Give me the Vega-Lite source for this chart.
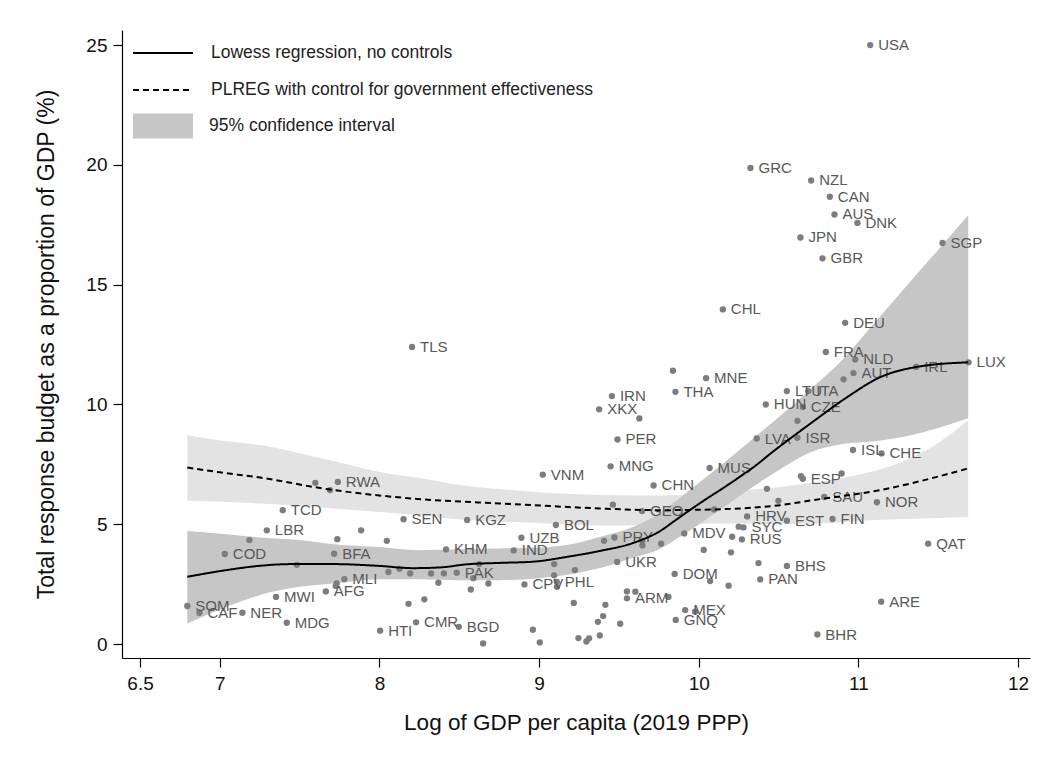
{
  "$schema": "https://vega.github.io/schema/vega-lite/v6.json",
  "width": 908,
  "height": 628,
  "autosize": {"type": "none"},
  "padding": {"left": 122, "top": 30, "right": 23, "bottom": 101},
  "background": "white",
  "config": {
    "view": {"stroke": null},
    "font": "Liberation Sans",
    "axis": {
      "grid": false,
      "domainColor": "#000",
      "domainWidth": 1.2,
      "tickColor": "#000",
      "tickWidth": 1.2,
      "tickSize": 9,
      "labelFont": "Liberation Sans",
      "labelFontSize": 19,
      "labelColor": "#111",
      "titleFont": "Liberation Sans",
      "titleFontSize": 22.5,
      "titleFontWeight": "normal",
      "titleColor": "#111"
    },
    "axisX": {"labelPadding": 7, "titlePadding": 18},
    "axisY": {"labelAngle": 0, "labelPadding": 6, "titlePadding": 27, "titleFontSize": 23},
    "legend": {
      "labelFont": "Liberation Sans",
      "labelFontSize": 17.5,
      "labelColor": "#222",
      "labelLimit": 0,
      "padding": 0
    }
  },
  "datasets": {
    "countries": [
      {"x": 11.074, "y": 25.0, "iso": "USA"},
      {"x": 10.324, "y": 19.87, "iso": "GRC"},
      {"x": 10.704, "y": 19.35, "iso": "NZL"},
      {"x": 10.821, "y": 18.67, "iso": "CAN"},
      {"x": 10.85, "y": 17.93, "iso": "AUS"},
      {"x": 10.994, "y": 17.58, "iso": "DNK"},
      {"x": 10.637, "y": 16.97, "iso": "JPN"},
      {"x": 11.527, "y": 16.74, "iso": "SGP"},
      {"x": 10.775, "y": 16.1, "iso": "GBR"},
      {"x": 10.151, "y": 13.97, "iso": "CHL"},
      {"x": 10.917, "y": 13.41, "iso": "DEU"},
      {"x": 8.204, "y": 12.4, "iso": "TLS"},
      {"x": 10.796, "y": 12.19, "iso": "FRA"},
      {"x": 11.69, "y": 11.76, "iso": "LUX"},
      {"x": 10.98, "y": 11.88, "iso": "NLD"},
      {"x": 11.362, "y": 11.57, "iso": "IRL"},
      {"x": 10.969, "y": 11.31, "iso": "AUT"},
      {"x": 10.907, "y": 11.05, "iso": ""},
      {"x": 10.046, "y": 11.1, "iso": "MNE"},
      {"x": 9.838, "y": 11.41, "iso": ""},
      {"x": 9.854, "y": 10.53, "iso": "THA"},
      {"x": 10.552, "y": 10.56, "iso": "LTU"},
      {"x": 10.686, "y": 10.56, "iso": "ITA"},
      {"x": 9.456, "y": 10.35, "iso": "IRN"},
      {"x": 10.42, "y": 10.0, "iso": "HUN"},
      {"x": 10.652, "y": 9.9, "iso": "CZE"},
      {"x": 9.376, "y": 9.8, "iso": "XKX"},
      {"x": 9.628, "y": 9.42, "iso": ""},
      {"x": 10.618, "y": 9.32, "iso": ""},
      {"x": 9.491, "y": 8.54, "iso": "PER"},
      {"x": 10.618, "y": 8.61, "iso": "ISR"},
      {"x": 10.363, "y": 8.58, "iso": "LVA"},
      {"x": 10.966, "y": 8.1, "iso": "ISL"},
      {"x": 11.145, "y": 7.96, "iso": "CHE"},
      {"x": 9.448, "y": 7.42, "iso": "MNG"},
      {"x": 10.068, "y": 7.35, "iso": "MUS"},
      {"x": 10.64, "y": 7.01, "iso": ""},
      {"x": 10.652, "y": 6.9, "iso": "ESP"},
      {"x": 10.895, "y": 7.12, "iso": ""},
      {"x": 9.023, "y": 7.07, "iso": "VNM"},
      {"x": 7.739, "y": 6.77, "iso": "RWA"},
      {"x": 7.598, "y": 6.73, "iso": ""},
      {"x": 7.69, "y": 6.43, "iso": ""},
      {"x": 9.717, "y": 6.62, "iso": "CHN"},
      {"x": 10.427, "y": 6.48, "iso": ""},
      {"x": 10.499, "y": 5.98, "iso": ""},
      {"x": 10.786, "y": 6.14, "iso": "SAU"},
      {"x": 11.116, "y": 5.92, "iso": "NOR"},
      {"x": 9.462, "y": 5.82, "iso": ""},
      {"x": 9.645, "y": 5.55, "iso": "GEO"},
      {"x": 10.096, "y": 5.62, "iso": ""},
      {"x": 7.394, "y": 5.59, "iso": "TCD"},
      {"x": 10.303, "y": 5.33, "iso": "HRV"},
      {"x": 10.552, "y": 5.15, "iso": "EST"},
      {"x": 10.838, "y": 5.22, "iso": "FIN"},
      {"x": 8.151, "y": 5.21, "iso": "SEN"},
      {"x": 8.549, "y": 5.18, "iso": "KGZ"},
      {"x": 9.105, "y": 4.97, "iso": "BOL"},
      {"x": 10.25, "y": 4.9, "iso": ""},
      {"x": 10.28, "y": 4.87, "iso": "SYC"},
      {"x": 7.294, "y": 4.75, "iso": "LBR"},
      {"x": 7.885, "y": 4.75, "iso": ""},
      {"x": 9.909, "y": 4.62, "iso": "MDV"},
      {"x": 10.27, "y": 4.37, "iso": "RUS"},
      {"x": 10.209, "y": 4.48, "iso": ""},
      {"x": 8.889, "y": 4.44, "iso": "UZB"},
      {"x": 9.407, "y": 4.31, "iso": ""},
      {"x": 9.472, "y": 4.45, "iso": "PRY"},
      {"x": 9.647, "y": 4.31, "iso": ""},
      {"x": 9.647, "y": 4.12, "iso": ""},
      {"x": 9.764, "y": 4.19, "iso": ""},
      {"x": 7.185, "y": 4.34, "iso": ""},
      {"x": 7.736, "y": 4.38, "iso": ""},
      {"x": 8.046, "y": 4.31, "iso": ""},
      {"x": 11.437, "y": 4.19, "iso": "QAT"},
      {"x": 8.417, "y": 3.95, "iso": "KHM"},
      {"x": 8.841, "y": 3.91, "iso": "IND"},
      {"x": 10.031, "y": 3.93, "iso": ""},
      {"x": 10.202, "y": 3.83, "iso": ""},
      {"x": 7.716, "y": 3.77, "iso": "BFA"},
      {"x": 7.031, "y": 3.76, "iso": "COD"},
      {"x": 9.489, "y": 3.43, "iso": "UKR"},
      {"x": 10.374, "y": 3.38, "iso": ""},
      {"x": 10.552, "y": 3.26, "iso": "BHS"},
      {"x": 9.094, "y": 3.34, "iso": ""},
      {"x": 8.624, "y": 3.34, "iso": ""},
      {"x": 7.482, "y": 3.31, "iso": ""},
      {"x": 9.224, "y": 3.09, "iso": ""},
      {"x": 8.056, "y": 3.01, "iso": ""},
      {"x": 8.125, "y": 3.14, "iso": ""},
      {"x": 8.192, "y": 2.95, "iso": ""},
      {"x": 8.323, "y": 2.95, "iso": ""},
      {"x": 8.403, "y": 2.95, "iso": ""},
      {"x": 8.484, "y": 2.98, "iso": "PAK"},
      {"x": 9.849, "y": 2.93, "iso": "DOM"},
      {"x": 9.094, "y": 2.87, "iso": ""},
      {"x": 8.588, "y": 2.75, "iso": ""},
      {"x": 7.78, "y": 2.71, "iso": "MLI"},
      {"x": 10.385, "y": 2.7, "iso": "PAN"},
      {"x": 10.071, "y": 2.63, "iso": ""},
      {"x": 9.111, "y": 2.6, "iso": "PHL"},
      {"x": 9.111, "y": 2.39, "iso": ""},
      {"x": 8.369, "y": 2.56, "iso": ""},
      {"x": 8.682, "y": 2.53, "iso": ""},
      {"x": 7.732, "y": 2.53, "iso": ""},
      {"x": 7.726, "y": 2.43, "iso": ""},
      {"x": 8.908, "y": 2.49, "iso": "CPV"},
      {"x": 10.187, "y": 2.44, "iso": ""},
      {"x": 8.572, "y": 2.28, "iso": ""},
      {"x": 7.664, "y": 2.2, "iso": "AFG"},
      {"x": 9.55, "y": 2.2, "iso": ""},
      {"x": 9.603, "y": 2.19, "iso": ""},
      {"x": 9.55, "y": 1.91, "iso": "ARM"},
      {"x": 9.81, "y": 1.97, "iso": ""},
      {"x": 7.352, "y": 1.97, "iso": "MWI"},
      {"x": 8.281, "y": 1.87, "iso": ""},
      {"x": 11.143, "y": 1.77, "iso": "ARE"},
      {"x": 9.217, "y": 1.72, "iso": ""},
      {"x": 8.182, "y": 1.68, "iso": ""},
      {"x": 9.415, "y": 1.64, "iso": ""},
      {"x": 6.796, "y": 1.59, "iso": "SOM"},
      {"x": 9.915, "y": 1.42, "iso": "MEX"},
      {"x": 9.977, "y": 1.35, "iso": ""},
      {"x": 6.872, "y": 1.31, "iso": "CAF"},
      {"x": 7.141, "y": 1.31, "iso": "NER"},
      {"x": 9.401, "y": 1.17, "iso": ""},
      {"x": 9.856, "y": 1.01, "iso": "GNQ"},
      {"x": 9.368, "y": 0.93, "iso": ""},
      {"x": 8.229, "y": 0.91, "iso": "CMR"},
      {"x": 7.419, "y": 0.89, "iso": "MDG"},
      {"x": 9.508, "y": 0.85, "iso": ""},
      {"x": 8.497, "y": 0.72, "iso": "BGD"},
      {"x": 8.961, "y": 0.6, "iso": ""},
      {"x": 8.004, "y": 0.56, "iso": "HTI"},
      {"x": 10.743, "y": 0.4, "iso": "BHR"},
      {"x": 9.38, "y": 0.36, "iso": ""},
      {"x": 9.246, "y": 0.25, "iso": ""},
      {"x": 9.313, "y": 0.24, "iso": ""},
      {"x": 9.296, "y": 0.11, "iso": ""},
      {"x": 9.004, "y": 0.07, "iso": ""},
      {"x": 8.649, "y": 0.03, "iso": ""}
    ],
    "curves": [
      {"model": "Lowess regression, no controls", "x": 6.796, "y": 2.81},
      {"model": "Lowess regression, no controls", "x": 7.043, "y": 3.09},
      {"model": "Lowess regression, no controls", "x": 7.252, "y": 3.27},
      {"model": "Lowess regression, no controls", "x": 7.461, "y": 3.34},
      {"model": "Lowess regression, no controls", "x": 7.711, "y": 3.34},
      {"model": "Lowess regression, no controls", "x": 7.983, "y": 3.27},
      {"model": "Lowess regression, no controls", "x": 8.212, "y": 3.17},
      {"model": "Lowess regression, no controls", "x": 8.38, "y": 3.2},
      {"model": "Lowess regression, no controls", "x": 8.547, "y": 3.33},
      {"model": "Lowess regression, no controls", "x": 8.756, "y": 3.39},
      {"model": "Lowess regression, no controls", "x": 8.962, "y": 3.44},
      {"model": "Lowess regression, no controls", "x": 9.174, "y": 3.64},
      {"model": "Lowess regression, no controls", "x": 9.382, "y": 3.89},
      {"model": "Lowess regression, no controls", "x": 9.589, "y": 4.22},
      {"model": "Lowess regression, no controls", "x": 9.758, "y": 4.72},
      {"model": "Lowess regression, no controls", "x": 9.85, "y": 5.15},
      {"model": "Lowess regression, no controls", "x": 9.95, "y": 5.62},
      {"model": "Lowess regression, no controls", "x": 10.05, "y": 6.07},
      {"model": "Lowess regression, no controls", "x": 10.15, "y": 6.5},
      {"model": "Lowess regression, no controls", "x": 10.25, "y": 6.95},
      {"model": "Lowess regression, no controls", "x": 10.35, "y": 7.42},
      {"model": "Lowess regression, no controls", "x": 10.468, "y": 8.05},
      {"model": "Lowess regression, no controls", "x": 10.593, "y": 8.68},
      {"model": "Lowess regression, no controls", "x": 10.719, "y": 9.3},
      {"model": "Lowess regression, no controls", "x": 10.928, "y": 10.3},
      {"model": "Lowess regression, no controls", "x": 11.137, "y": 11.14},
      {"model": "Lowess regression, no controls", "x": 11.367, "y": 11.57},
      {"model": "Lowess regression, no controls", "x": 11.688, "y": 11.76},
      {"model": "PLREG with control for government effectiveness", "x": 6.796, "y": 7.37},
      {"model": "PLREG with control for government effectiveness", "x": 7.0, "y": 7.17},
      {"model": "PLREG with control for government effectiveness", "x": 7.252, "y": 6.95},
      {"model": "PLREG with control for government effectiveness", "x": 7.67, "y": 6.47},
      {"model": "PLREG with control for government effectiveness", "x": 8.254, "y": 6.05},
      {"model": "PLREG with control for government effectiveness", "x": 8.756, "y": 5.87},
      {"model": "PLREG with control for government effectiveness", "x": 9.069, "y": 5.76},
      {"model": "PLREG with control for government effectiveness", "x": 9.382, "y": 5.66},
      {"model": "PLREG with control for government effectiveness", "x": 9.758, "y": 5.59},
      {"model": "PLREG with control for government effectiveness", "x": 10.092, "y": 5.62},
      {"model": "PLREG with control for government effectiveness", "x": 10.51, "y": 5.8},
      {"model": "PLREG with control for government effectiveness", "x": 10.719, "y": 6.01},
      {"model": "PLREG with control for government effectiveness", "x": 11.137, "y": 6.43},
      {"model": "PLREG with control for government effectiveness", "x": 11.688, "y": 7.33}
    ],
    "bands": [
      {"band": "Lowess", "ci": "95% confidence interval", "x": 6.796, "lo": 0.86, "hi": 4.72},
      {"band": "Lowess", "ci": "95% confidence interval", "x": 7.043, "lo": 1.56, "hi": 4.59},
      {"band": "Lowess", "ci": "95% confidence interval", "x": 7.252, "lo": 2.05, "hi": 4.45},
      {"band": "Lowess", "ci": "95% confidence interval", "x": 7.5, "lo": 2.39, "hi": 4.34},
      {"band": "Lowess", "ci": "95% confidence interval", "x": 7.711, "lo": 2.53, "hi": 4.17},
      {"band": "Lowess", "ci": "95% confidence interval", "x": 8.0, "lo": 2.71, "hi": 4.05},
      {"band": "Lowess", "ci": "95% confidence interval", "x": 8.25, "lo": 2.71, "hi": 3.92},
      {"band": "Lowess", "ci": "95% confidence interval", "x": 8.5, "lo": 2.67, "hi": 3.96},
      {"band": "Lowess", "ci": "95% confidence interval", "x": 8.75, "lo": 2.67, "hi": 3.99},
      {"band": "Lowess", "ci": "95% confidence interval", "x": 9.0, "lo": 2.75, "hi": 4.03},
      {"band": "Lowess", "ci": "95% confidence interval", "x": 9.2, "lo": 2.92, "hi": 4.17},
      {"band": "Lowess", "ci": "95% confidence interval", "x": 9.4, "lo": 3.21, "hi": 4.51},
      {"band": "Lowess", "ci": "95% confidence interval", "x": 9.6, "lo": 3.63, "hi": 4.92},
      {"band": "Lowess", "ci": "95% confidence interval", "x": 9.75, "lo": 3.95, "hi": 5.45},
      {"band": "Lowess", "ci": "95% confidence interval", "x": 9.9, "lo": 4.55, "hi": 6.2},
      {"band": "Lowess", "ci": "95% confidence interval", "x": 10.1, "lo": 5.45, "hi": 7.26},
      {"band": "Lowess", "ci": "95% confidence interval", "x": 10.3, "lo": 6.39, "hi": 8.35},
      {"band": "Lowess", "ci": "95% confidence interval", "x": 10.5, "lo": 7.26, "hi": 9.47},
      {"band": "Lowess", "ci": "95% confidence interval", "x": 10.7, "lo": 8.01, "hi": 10.64},
      {"band": "Lowess", "ci": "95% confidence interval", "x": 10.9, "lo": 8.35, "hi": 11.87},
      {"band": "Lowess", "ci": "95% confidence interval", "x": 11.1, "lo": 8.47, "hi": 13.4},
      {"band": "Lowess", "ci": "95% confidence interval", "x": 11.3, "lo": 8.68, "hi": 14.94},
      {"band": "Lowess", "ci": "95% confidence interval", "x": 11.5, "lo": 9.02, "hi": 16.46},
      {"band": "Lowess", "ci": "95% confidence interval", "x": 11.688, "lo": 9.43, "hi": 17.9},
      {"band": "PLREG", "x": 6.796, "lo": 5.98, "hi": 8.72},
      {"band": "PLREG", "x": 7.043, "lo": 5.93, "hi": 8.47},
      {"band": "PLREG", "x": 7.252, "lo": 5.87, "hi": 8.31},
      {"band": "PLREG", "x": 7.5, "lo": 5.78, "hi": 7.97},
      {"band": "PLREG", "x": 7.711, "lo": 5.66, "hi": 7.64},
      {"band": "PLREG", "x": 8.0, "lo": 5.51, "hi": 7.18},
      {"band": "PLREG", "x": 8.25, "lo": 5.38, "hi": 6.93},
      {"band": "PLREG", "x": 8.5, "lo": 5.2, "hi": 6.64},
      {"band": "PLREG", "x": 8.75, "lo": 5.12, "hi": 6.47},
      {"band": "PLREG", "x": 9.0, "lo": 5.05, "hi": 6.34},
      {"band": "PLREG", "x": 9.2, "lo": 4.98, "hi": 6.26},
      {"band": "PLREG", "x": 9.4, "lo": 4.95, "hi": 6.22},
      {"band": "PLREG", "x": 9.6, "lo": 4.95, "hi": 6.2},
      {"band": "PLREG", "x": 9.75, "lo": 4.96, "hi": 6.2},
      {"band": "PLREG", "x": 9.9, "lo": 4.99, "hi": 6.22},
      {"band": "PLREG", "x": 10.1, "lo": 5.03, "hi": 6.3},
      {"band": "PLREG", "x": 10.3, "lo": 5.03, "hi": 6.43},
      {"band": "PLREG", "x": 10.5, "lo": 5.0, "hi": 6.55},
      {"band": "PLREG", "x": 10.7, "lo": 5.02, "hi": 6.72},
      {"band": "PLREG", "x": 10.9, "lo": 5.09, "hi": 6.93},
      {"band": "PLREG", "x": 11.1, "lo": 5.18, "hi": 7.22},
      {"band": "PLREG", "x": 11.3, "lo": 5.22, "hi": 7.68},
      {"band": "PLREG", "x": 11.5, "lo": 5.26, "hi": 8.39},
      {"band": "PLREG", "x": 11.688, "lo": 5.3, "hi": 9.35}
    ]
  },
  "layer": [
    {
      "data": {"name": "bands"},
      "transform": [{"filter": "datum.band === 'PLREG'"}],
      "mark": {"type": "area", "color": "#e3e3e3", "opacity": 1, "interpolate": "monotone"},
      "encoding": {
        "x": {
          "field": "x", "type": "quantitative",
          "scale": {"domain": [6.387, 12.075], "nice": false, "zero": false},
          "axis": {"values": [6.5, 7, 8, 9, 10, 11, 12], "format": "~g"},
          "title": "Log of GDP per capita (2019 PPP)"
        },
        "y": {
          "field": "lo", "type": "quantitative",
          "scale": {"domain": [-0.58, 25.63], "nice": false, "zero": false},
          "axis": {"values": [0, 5, 10, 15, 20, 25], "format": "d"},
          "title": "Total response budget as a proportion of GDP (%)"
        },
        "y2": {"field": "hi"}
      }
    },
    {
      "data": {"name": "bands"},
      "transform": [{"filter": "datum.band === 'Lowess'"}],
      "mark": {"type": "area", "opacity": 1, "interpolate": "monotone"},
      "encoding": {
        "x": {"field": "x", "type": "quantitative", "title": "Log of GDP per capita (2019 PPP)"},
        "y": {"field": "lo", "type": "quantitative", "title": "Total response budget as a proportion of GDP (%)"},
        "y2": {"field": "hi"},
        "fill": {
          "field": "ci", "type": "nominal",
          "scale": {"domain": ["95% confidence interval"], "range": ["#c6c6c6"]},
          "legend": {
            "title": null, "orient": "none", "legendX": 11, "legendY": 86,
            "symbolType": "M-1,-1.25H5V1.25H-1Z", "symbolSize": 400,
            "symbolStrokeWidth": 0, "symbolOpacity": 1,
            "labelOffset": 56
          }
        }
      }
    },
    {
      "data": {"name": "countries"},
      "mark": {"type": "circle", "size": 40, "color": "#7d7d7d", "opacity": 1},
      "encoding": {
        "x": {"field": "x", "type": "quantitative", "title": "Log of GDP per capita (2019 PPP)"},
        "y": {"field": "y", "type": "quantitative", "title": "Total response budget as a proportion of GDP (%)"}
      }
    },
    {
      "data": {"name": "countries"},
      "mark": {"type": "text", "align": "left", "baseline": "middle", "dx": 8, "fontSize": 15, "font": "Liberation Sans", "color": "#585858"},
      "encoding": {
        "x": {"field": "x", "type": "quantitative", "title": "Log of GDP per capita (2019 PPP)"},
        "y": {"field": "y", "type": "quantitative", "title": "Total response budget as a proportion of GDP (%)"},
        "text": {"field": "iso"}
      }
    },
    {
      "data": {"name": "curves"},
      "mark": {"type": "line", "color": "black", "strokeWidth": 2, "interpolate": "monotone"},
      "encoding": {
        "x": {"field": "x", "type": "quantitative", "title": "Log of GDP per capita (2019 PPP)"},
        "y": {"field": "y", "type": "quantitative", "title": "Total response budget as a proportion of GDP (%)"},
        "strokeDash": {
          "field": "model", "type": "nominal",
          "scale": {"domain": ["Lowess regression, no controls", "PLREG with control for government effectiveness"], "range": [[1, 0], [6, 4]]},
          "legend": {
            "title": null, "orient": "none", "legendX": 10, "legendY": 12,
            "symbolType": "M-1,0H5", "symbolSize": 400,
            "symbolStrokeWidth": 2, "symbolStrokeColor": "black",
            "labelOffset": 57, "rowPadding": 17
          }
        }
      }
    }
  ]
}
